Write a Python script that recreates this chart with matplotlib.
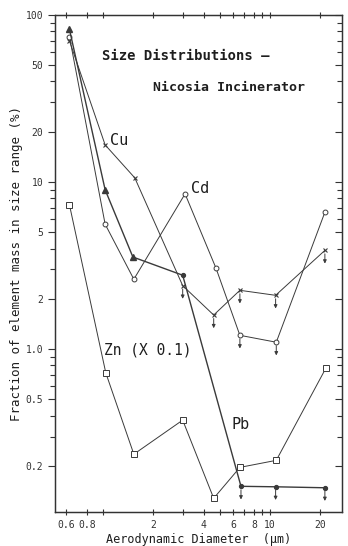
import matplotlib
matplotlib.use("Agg")
import matplotlib.pyplot as plt
from matplotlib.transforms import offset_copy
from matplotlib.ticker import FixedLocator, NullFormatter, FixedFormatter

# ---- data ----
x_cu = [0.63, 1.03, 1.55, 3.0, 4.6, 6.6, 10.8, 21.3]
y_cu = [70, 16.7, 10.6, 2.4, 1.6, 2.25, 2.1, 3.9]
lim_cu = [False, False, False, True, True, True, True, True]

x_cd = [0.63, 1.03, 1.53, 3.1, 4.75, 6.6, 10.9, 21.3]
y_cd = [74, 5.6, 2.62, 8.5, 3.05, 1.21, 1.10, 6.6]
lim_cd = [False, False, False, False, False, True, True, False]

x_pb = [0.63, 1.03, 1.51, 3.0, 6.7, 10.8, 21.3]
y_pb = [82, 9.0, 3.56, 2.77, 0.151, 0.150, 0.148]
lim_pb = [False, False, False, False, True, True, True]

x_zn = [0.63, 1.04, 1.53, 3.0, 4.6, 6.6, 10.9, 21.6]
y_zn = [7.3, 0.72, 0.235, 0.376, 0.128, 0.196, 0.216, 0.77]

y_ticks = [100, 50, 20, 10, 5, 2, 1, 0.5, 0.2]
y_ticklabels = ["100", "50", "20", "10", "5", "2", "1.0", "0.5", "0.2"]
x_ticks = [0.6, 0.8, 1, 2, 4, 6, 8, 10, 20]
x_ticklabels = ["0.6", "0.8", "", "2", "4", "6", "8", "10", "20"]

title1 = "Size Distributions \u2013"
title2 = "Nicosia Incinerator"
xlabel = "Aerodynamic Diameter  (\u00b5m)"
ylabel = "Fraction of element mass in size range (%)"

# ---- figure ----
fig = plt.figure(figsize=(3.48, 5.46), dpi=100)
ax = fig.add_axes([0.158, 0.0623, 0.825, 0.9102])
ax.set_xscale("log")
ax.set_yscale("log")
ax.set_xlim(0.516, 27.0)
ax.set_ylim(0.106, 100)

lc = "#3a3a3a"
tc = "#1e1e1e"
mono = "DejaVu Sans Mono"

ax.plot(x_cu, y_cu, color=lc, lw=0.7, marker="x", ms=3, mew=0.8)
ax.plot(x_cd, y_cd, color=lc, lw=0.7, marker="o", ms=3.5, mfc="white", mew=0.7)
ax.plot(x_pb, y_pb, color=lc, lw=1.0)
ax.plot(x_pb[:3], y_pb[:3], ls="none", color=lc, marker="^", ms=4)
ax.plot(x_pb[3:], y_pb[3:], ls="none", color=lc, marker="o", ms=2.8)
ax.plot(x_zn, y_zn, color=lc, lw=0.7, marker="s", ms=5, mfc="white", mew=0.7)

# upper-limit arrows
t_start = offset_copy(ax.transData, fig=fig, y=-2.5, units="points")
t_end = offset_copy(ax.transData, fig=fig, y=-9.5, units="points")
for xs, ys, ls in [(x_cu, y_cu, lim_cu), (x_cd, y_cd, lim_cd), (x_pb, y_pb, lim_pb)]:
    for xv, yv, lv in zip(xs, ys, ls):
        if lv:
            ax.annotate("", xy=(xv, yv), xycoords=t_end,
                        xytext=(xv, yv), textcoords=t_start,
                        arrowprops=dict(arrowstyle="-|>", color=lc, lw=0.7,
                                        mutation_scale=5, shrinkA=0, shrinkB=0))

# labels in plot
ax.text(0.165, 0.918, title1, transform=ax.transAxes, family=mono,
        fontsize=10, color=tc, va="center", ha="left", fontweight="bold")
ax.text(0.34, 0.855, title2, transform=ax.transAxes, family=mono,
        fontsize=9.5, color=tc, va="center", ha="left", fontweight="bold")
ax.text(1.10, 16.0, "Cu", family=mono, fontsize=11, color=tc, va="bottom")
ax.text(3.35, 8.2, "Cd", family=mono, fontsize=11, color=tc, va="bottom")
ax.text(1.02, 0.99, "Zn (X 0.1)", family=mono, fontsize=10.5, color=tc, va="center")
ax.text(5.9, 0.355, "Pb", family=mono, fontsize=11, color=tc, va="center")

# ticks
ax.yaxis.set_major_locator(FixedLocator(y_ticks))
ax.yaxis.set_major_formatter(FixedFormatter(y_ticklabels))
ax.yaxis.set_minor_locator(FixedLocator([0.3, 0.4, 0.6, 0.7, 0.8, 0.9, 3, 4, 6, 7, 8, 9, 30, 40, 60, 70, 80, 90]))
ax.yaxis.set_minor_formatter(NullFormatter())
ax.xaxis.set_major_locator(FixedLocator(x_ticks))
ax.xaxis.set_major_formatter(FixedFormatter(x_ticklabels))
ax.xaxis.set_minor_locator(FixedLocator([3, 5, 7, 9]))
ax.xaxis.set_minor_formatter(NullFormatter())

ax.tick_params(axis="y", which="both", direction="out", left=True, right=False,
               labelsize=7, colors="#333333", width=0.8)
ax.tick_params(axis="y", which="major", length=5)
ax.tick_params(axis="y", which="minor", length=3.5)
ax.tick_params(axis="x", which="both", direction="inout", top=True, bottom=True,
               labelsize=7, colors="#333333", width=0.8)
ax.tick_params(axis="x", which="major", length=5)
ax.tick_params(axis="x", which="minor", length=4)
for lab in ax.get_xticklabels() + ax.get_yticklabels():
    lab.set_family(mono)

# right-side ticks pointing inward
axr = ax.twinx()
axr.set_yscale("log")
axr.set_ylim(ax.get_ylim())
axr.yaxis.set_major_locator(FixedLocator(y_ticks))
axr.yaxis.set_minor_locator(FixedLocator([0.3, 0.4, 0.6, 0.7, 0.8, 0.9, 3, 4, 6, 7, 8, 9, 30, 40, 60, 70, 80, 90]))
axr.yaxis.set_major_formatter(NullFormatter())
axr.yaxis.set_minor_formatter(NullFormatter())
axr.tick_params(axis="y", which="both", direction="in", colors="#333333", width=0.8)
axr.tick_params(axis="y", which="major", length=5)
axr.tick_params(axis="y", which="minor", length=3.5)

for a in (ax, axr):
    for s in a.spines.values():
        s.set_color("#333333")
        s.set_linewidth(0.9)

ax.set_xlabel(xlabel, family=mono, fontsize=8.5, color=tc, labelpad=2)
ax.set_ylabel(ylabel, family=mono, fontsize=9, color=tc, labelpad=2)

fig.savefig("out.png", dpi=100)
